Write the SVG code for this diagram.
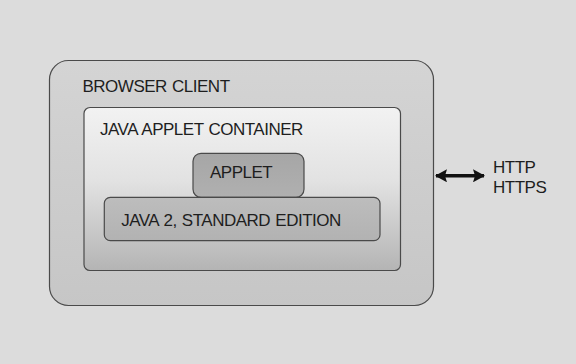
<svg xmlns="http://www.w3.org/2000/svg" width="576" height="364" viewBox="0 0 576 364">
  <style>
    .lbl { font-family: "Liberation Sans", Arial, Helvetica, sans-serif; font-size: 17px; letter-spacing: -0.5px; word-spacing: 1px; fill: #1e1e1e; }
    .box { stroke: #4a4a4a; stroke-width: 1.2; }
  </style>
  <defs>
    <linearGradient id="gOuter" x1="0" y1="0" x2="0" y2="1">
      <stop offset="0" stop-color="#d4d4d4"/>
      <stop offset="1" stop-color="#c6c6c6"/>
    </linearGradient>
    <linearGradient id="gInner" x1="0" y1="0" x2="0" y2="1">
      <stop offset="0" stop-color="#f2f2f2"/>
      <stop offset="0.45" stop-color="#e2e2e2"/>
      <stop offset="1" stop-color="#b4b4b4"/>
    </linearGradient>
    <linearGradient id="gApplet" x1="0" y1="0" x2="0" y2="1">
      <stop offset="0" stop-color="#a6a6a6"/>
      <stop offset="1" stop-color="#b0b0b0"/>
    </linearGradient>
    <linearGradient id="gJ2se" x1="0" y1="0" x2="0" y2="1">
      <stop offset="0" stop-color="#bdbdbd"/>
      <stop offset="1" stop-color="#b2b2b2"/>
    </linearGradient>
    <marker id="ah" viewBox="0 0 12 13" refX="11" refY="6.5" markerWidth="12" markerHeight="13" orient="auto-start-reverse" markerUnits="userSpaceOnUse">
      <path d="M0,0 L12,6.5 L0,13 L2,6.5 Z" fill="#111"/>
    </marker>
  </defs>

  <rect x="0" y="0" width="576" height="364" fill="#dcdcdc"/>

  <g id="browser-client">
    <rect class="box" x="49.5" y="60.5" width="384" height="245" rx="19" ry="19" fill="url(#gOuter)"/>
    <text class="lbl" x="82.5" y="91.7">BROWSER CLIENT</text>
  </g>

  <g id="java-applet-container">
    <rect class="box" x="84" y="107.5" width="316.5" height="163" rx="6" ry="6" fill="url(#gInner)"/>
    <text class="lbl" x="100" y="135">JAVA APPLET CONTAINER</text>
  </g>

  <g id="applet">
    <rect class="box" x="193" y="153.3" width="111" height="44" rx="8" ry="8" fill="url(#gApplet)"/>
    <text class="lbl" x="210" y="178">APPLET</text>
  </g>

  <g id="j2se">
    <rect class="box" x="104.3" y="197.3" width="275.7" height="43.4" rx="6" ry="6" fill="url(#gJ2se)"/>
    <text class="lbl" x="121.2" y="225.5">JAVA 2, STANDARD EDITION</text>
  </g>

  <g id="protocols">
    <text class="lbl" x="493" y="173.3">HTTP</text>
    <text class="lbl" x="493" y="193.3">HTTPS</text>
  </g>

  <g id="connectors">
    <line x1="436" y1="175.8" x2="484" y2="175.8" stroke="#111" stroke-width="3.5" marker-start="url(#ah)" marker-end="url(#ah)"/>
  </g>
</svg>
